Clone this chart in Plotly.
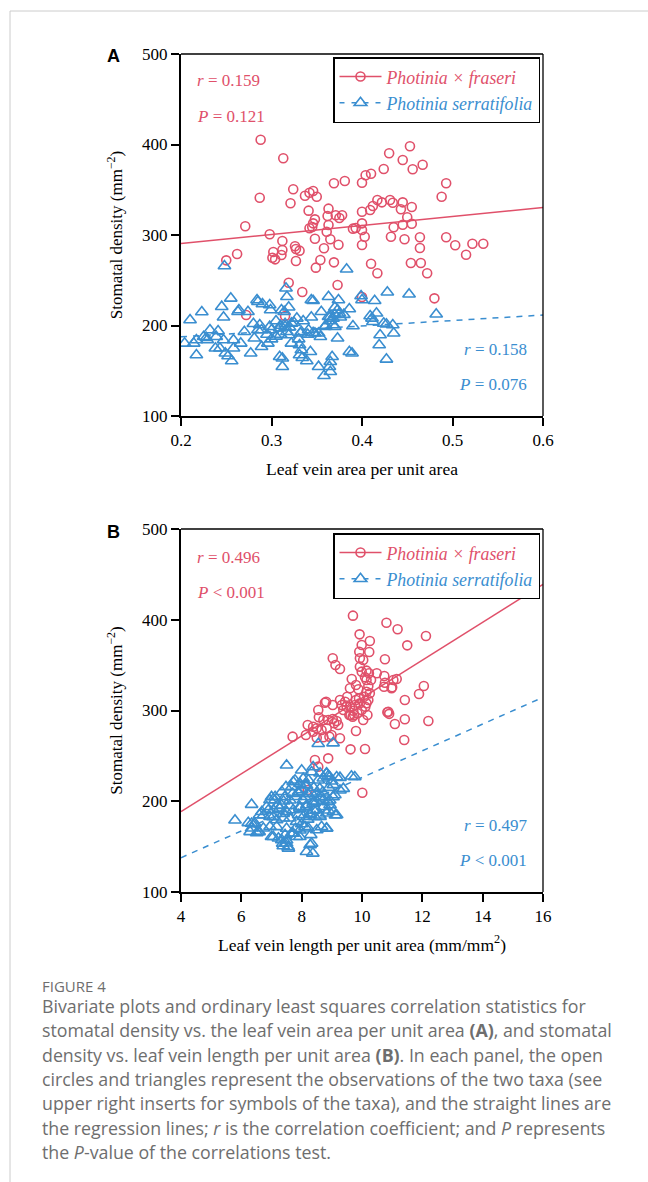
import plotly.graph_objects as go

W, H = 648, 1182
RED = "#E0506A"
BLUE = "#3A8ED0"

# ---------------- Data: panel A (leaf vein area per unit area) ----------------
A_red_x = [0.288, 0.313, 0.287, 0.324, 0.321, 0.337, 0.342, 0.346, 0.350, 0.369, 0.381, 0.400,
           0.271, 0.298, 0.312, 0.326, 0.327, 0.331, 0.341, 0.348, 0.346, 0.342, 0.345, 0.348,
           0.363, 0.362, 0.363, 0.361, 0.365, 0.371, 0.375, 0.378, 0.374, 0.358, 0.390, 0.393,
           0.400, 0.400, 0.400, 0.400, 0.302, 0.301, 0.304, 0.311, 0.312, 0.250, 0.262, 0.327,
           0.354, 0.349, 0.369, 0.319, 0.334, 0.373, 0.453, 0.430, 0.445, 0.467, 0.456, 0.424,
           0.410, 0.404, 0.493, 0.488, 0.417, 0.412, 0.409, 0.422, 0.431, 0.434, 0.445, 0.443,
           0.455, 0.450, 0.445, 0.455, 0.435, 0.403, 0.432, 0.447, 0.464, 0.464, 0.493, 0.503,
           0.522, 0.534, 0.515, 0.410, 0.417, 0.454, 0.465, 0.472, 0.480, 0.400, 0.272, 0.315]
A_red_y = [405.3, 384.8, 341.2, 350.5, 335.0, 343.4, 346.7, 348.6, 342.3, 357.1, 359.7, 357.8,
           309.6, 300.8, 293.4, 287.5, 284.5, 282.7, 326.9, 317.3, 312.9, 307.4, 308.8, 295.9,
           329.1, 321.0, 311.0, 303.6, 295.3, 321.8, 318.8, 321.8, 289.3, 285.3, 307.0, 307.7,
           325.7, 312.9, 305.5, 289.0, 281.2, 274.9, 273.1, 277.9, 283.4, 272.0, 279.0, 271.3,
           272.4, 263.9, 269.8, 247.3, 237.0, 244.8, 398.0, 390.3, 382.9, 377.7, 372.6, 372.9,
           367.7, 366.0, 357.1, 342.3, 338.7, 332.0, 327.6, 336.1, 338.7, 335.7, 336.1, 328.4,
           330.9, 319.6, 311.4, 312.5, 308.5, 298.1, 298.1, 295.3, 297.5, 285.6, 297.5, 288.6,
           290.4, 290.4, 278.2, 268.3, 257.7, 269.1, 269.1, 257.7, 230.0, 231.5, 211.6, 210.5]

A_blue_x = [0.248, 0.383, 0.316, 0.255, 0.284, 0.317, 0.344, 0.346, 0.363, 0.374, 0.400, 0.399,
            0.414, 0.428, 0.452, 0.482, 0.245, 0.223, 0.210, 0.247, 0.264, 0.263, 0.274, 0.285,
            0.290, 0.298, 0.299, 0.311, 0.314, 0.319, 0.328, 0.344, 0.355, 0.365, 0.368, 0.373,
            0.375, 0.376, 0.386, 0.409, 0.411, 0.412, 0.416, 0.424, 0.427, 0.434, 0.241, 0.232,
            0.225, 0.214, 0.228, 0.229, 0.217, 0.239, 0.247, 0.258, 0.266, 0.270, 0.281, 0.287,
            0.289, 0.298, 0.300, 0.309, 0.315, 0.317, 0.319, 0.322, 0.332, 0.333, 0.341, 0.346,
            0.348, 0.352, 0.354, 0.359, 0.363, 0.368, 0.370, 0.390, 0.420, 0.435, 0.204, 0.238,
            0.243, 0.249, 0.252, 0.256, 0.258, 0.277, 0.289, 0.296, 0.309, 0.312, 0.322, 0.331,
            0.333, 0.331, 0.334, 0.339, 0.343, 0.352, 0.358, 0.365, 0.364, 0.367, 0.365, 0.373,
            0.386, 0.389, 0.419, 0.427, 0.217, 0.312, 0.305, 0.310, 0.315, 0.320, 0.325, 0.310,
            0.305, 0.295, 0.285, 0.280, 0.300, 0.340, 0.360, 0.365, 0.370, 0.380, 0.370, 0.335,
            0.330]
A_blue_y = [265.7, 262.1, 241.1, 230.0, 228.2, 231.8, 228.2, 227.4, 231.8, 228.2, 228.2, 232.6,
            227.4, 236.7, 234.5, 212.4, 220.8, 214.9, 206.1, 209.1, 217.1, 215.2, 215.2, 226.3,
            223.7, 222.6, 217.1, 217.1, 215.2, 220.1, 207.9, 209.1, 215.2, 209.7, 207.9, 217.1,
            213.5, 209.1, 218.2, 210.5, 207.9, 204.2, 213.5, 202.4, 201.3, 200.5, 193.9, 195.0,
            187.6, 180.3, 186.5, 184.0, 184.0, 187.6, 184.0, 184.0, 180.3, 193.1, 185.9, 200.5,
            195.0, 198.7, 195.0, 196.9, 198.7, 193.1, 189.5, 202.4, 191.4, 193.1, 195.0, 192.0,
            191.4, 191.4, 187.6, 198.7, 209.7, 200.5, 198.7, 199.4, 189.5, 191.4, 180.3, 174.8,
            174.8, 169.3, 166.3, 160.8, 174.8, 169.3, 176.6, 180.3, 165.5, 163.8, 180.3, 178.5,
            172.9, 167.4, 164.4, 160.8, 171.0, 154.5, 144.5, 148.9, 154.5, 165.5, 160.0, 185.9,
            171.0, 169.3, 178.5, 162.6, 167.4, 154.5, 205.0, 200.0, 202.0, 198.0, 203.0, 190.0,
            188.0, 190.0, 195.0, 202.0, 185.0, 190.0, 200.0, 205.0, 212.0, 212.0, 220.0, 205.0,
            185.0]

# regression lines, panel A (values at x = 0.2 and 0.6)
A_fit_x = [0.2, 0.6]
A_fit_red = [290.5, 330.5]
A_fit_blue = [187.5, 211.5]

# ---------------- Data: panel B (leaf vein length per unit area) ----------------
B_red_x = [9.70, 10.81, 11.18, 12.12, 11.50, 9.92, 9.99, 10.26, 10.24, 9.91, 9.93, 10.04,
           9.03, 9.12, 9.27, 10.76, 9.93, 9.99, 10.15, 10.23, 10.10, 10.15, 10.30, 10.49,
           10.74, 10.76, 11.15, 9.66, 9.80, 9.88, 9.60, 10.21, 10.15, 10.26, 10.07, 10.21,
           10.15, 10.11, 9.90, 9.80, 9.77, 9.71, 9.62, 9.74, 9.85, 9.99, 9.93, 10.18,
           10.04, 9.51, 9.44, 9.33, 9.27, 9.49, 9.60, 9.38, 9.58, 9.69, 10.73, 10.98,
           11.42, 11.89, 12.05, 10.87, 11.09, 11.42, 12.20, 11.40, 8.81, 9.03, 8.55, 8.57,
           8.72, 8.88, 9.03, 9.16, 9.21, 9.08, 8.20, 8.38, 8.50, 8.38, 8.66, 8.83,
           8.99, 8.92, 9.27, 8.72, 8.50, 8.14, 7.70, 9.80, 9.62, 10.10, 8.88, 8.44,
           8.55, 10.01, 8.20, 11.04, 11.00, 10.84, 8.77, 10.90]
B_red_y = [404.5, 396.7, 389.5, 382.1, 371.8, 383.9, 372.2, 376.6, 364.5, 364.8, 357.5, 355.6,
           357.5, 350.1, 345.7, 356.4, 348.3, 342.8, 343.9, 341.0, 336.6, 333.6, 333.6, 341.0,
           338.0, 330.6, 334.7, 334.7, 328.1, 323.4, 324.5, 327.0, 320.7, 318.9, 315.2, 311.6,
           307.9, 304.2, 313.4, 311.6, 306.1, 299.8, 295.0, 295.0, 296.9, 300.6, 307.9, 295.0,
           289.5, 315.2, 309.7, 306.1, 311.6, 304.2, 304.2, 300.6, 295.0, 293.2, 326.2, 324.5,
           311.6, 318.2, 327.0, 298.7, 285.1, 290.3, 288.4, 267.5, 309.7, 306.1, 300.6, 292.6,
           289.5, 289.5, 290.6, 288.4, 284.0, 285.9, 284.0, 282.1, 280.4, 276.6, 278.5, 280.4,
           273.0, 271.2, 269.4, 270.5, 270.1, 273.0, 271.2, 277.4, 257.2, 257.5, 247.3, 245.5,
           238.1, 209.4, 212.4, 333.6, 325.6, 298.0, 308.5, 296.3]

B_blue_x = [5.79, 6.34, 6.34, 6.42, 6.29, 6.51, 6.59, 6.23, 6.73, 6.89, 7.00, 7.11,
            7.05, 7.00, 7.17, 7.33, 7.39, 7.44, 7.50, 7.48, 7.67, 7.72, 7.78, 7.89,
            7.70, 7.61, 7.50, 7.37, 7.55, 7.72, 7.83, 7.94, 8.11, 8.00, 8.33, 8.38,
            8.55, 8.60, 8.49, 8.66, 8.71, 8.16, 8.33, 8.05, 8.16, 8.27, 8.38, 7.94,
            8.44, 8.60, 8.66, 8.82, 8.88, 8.93, 9.04, 8.88, 8.55, 9.04, 8.93, 9.16,
            9.27, 9.27, 9.38, 9.12, 9.65, 9.76, 8.82, 8.16, 8.05, 7.94, 9.05, 9.10,
            8.83, 8.88, 8.72, 8.61, 8.22, 8.11, 8.00, 7.89, 7.34, 7.12, 6.95, 6.84,
            6.68, 6.60, 8.61, 8.39, 8.17, 7.94, 7.72, 7.50, 7.28, 7.06, 6.95, 7.17,
            7.39, 7.61, 7.83, 8.05, 8.28, 8.50, 8.72, 8.94, 8.61, 8.83, 9.05, 9.16,
            6.45, 6.34, 6.56, 6.73, 6.95, 7.06, 7.23, 7.45, 7.67, 7.94, 8.22, 8.50,
            8.83, 7.34, 7.50, 7.56, 7.39, 8.28, 8.37, 7.80, 8.10, 8.30, 8.40, 8.20,
            7.60, 7.90, 8.20, 8.40, 8.70, 8.90, 9.00, 8.50, 8.00, 7.50, 7.80, 8.30,
            7.20, 7.40]
B_blue_y = [179.1, 196.3, 175.5, 174.7, 166.3, 165.2, 166.3, 176.2, 184.6, 190.1, 204.8, 201.1,
            182.8, 160.8, 171.8, 195.6, 186.4, 204.8, 239.6, 215.8, 215.8, 221.2, 223.1, 210.3,
            208.4, 201.1, 157.1, 153.5, 149.8, 164.5, 160.8, 168.1, 171.8, 234.1, 232.2, 237.7,
            223.1, 213.9, 208.4, 204.8, 201.1, 144.3, 153.5, 201.1, 193.8, 186.4, 197.4, 193.8,
            182.8, 184.6, 171.8, 170.0, 190.1, 201.1, 204.8, 199.3, 263.4, 264.1, 226.7, 226.7,
            226.0, 212.1, 213.9, 184.6, 227.5, 226.7, 230.4, 217.6, 224.9, 219.4, 218.0, 206.9,
            230.8, 227.8, 225.3, 230.8, 223.4, 218.0, 212.4, 208.8, 210.5, 205.0, 201.4, 194.0,
            188.5, 184.8, 203.3, 199.5, 195.9, 192.2, 190.4, 188.5, 192.2, 190.4, 183.0, 179.3,
            181.2, 181.2, 177.5, 183.0, 184.8, 190.4, 194.0, 195.9, 183.0, 186.7, 188.5, 184.8,
            175.7, 170.2, 166.5, 170.2, 172.0, 160.9, 159.2, 162.9, 164.7, 160.9, 170.2, 168.3,
            170.2, 157.3, 153.7, 148.1, 150.7, 151.8, 142.6, 205.0, 205.0, 210.0, 215.0, 208.0,
            195.0, 185.0, 180.0, 190.0, 210.0, 215.0, 222.0, 200.0, 175.0, 170.0, 170.0, 163.0,
            195.0, 200.0]

B_fit_x = [4, 16]
B_fit_red = [188.5, 439.0]
B_fit_blue = [137.8, 314.5]

NAME_RED = '<span style="color:%s"><i>Photinia × fraseri</i></span>' % RED
NAME_BLUE = '<span style="color:%s"><i>Photinia serratifolia</i></span>' % BLUE

def px_x(p):
    return p / W

def px_y(p):
    return 1 - p / H

fig = go.Figure()

panels = [
    ("x", "y", "legend", A_red_x, A_red_y, A_blue_x, A_blue_y, A_fit_x, A_fit_red, A_fit_blue),
    ("x2", "y2", "legend2", B_red_x, B_red_y, B_blue_x, B_blue_y, B_fit_x, B_fit_red, B_fit_blue),
]

red_marker = dict(symbol="circle-open", size=9, color=RED, line=dict(width=1.6, color=RED))
blue_marker = dict(symbol="triangle-up-open", size=11, color=BLUE, line=dict(width=1.6, color=BLUE))

for xa, ya, lg, rx, ry, bx, by, fx, fr, fb in panels:
    fig.add_trace(go.Scatter(x=rx, y=ry, mode="markers", marker=red_marker,
                             xaxis=xa, yaxis=ya, showlegend=False, hoverinfo="skip"))
    fig.add_trace(go.Scatter(x=bx, y=by, mode="markers", marker=blue_marker,
                             xaxis=xa, yaxis=ya, showlegend=False, hoverinfo="skip"))
    fig.add_trace(go.Scatter(x=fx, y=fr, mode="lines", line=dict(color=RED, width=1.5),
                             xaxis=xa, yaxis=ya, showlegend=False, hoverinfo="skip"))
    fig.add_trace(go.Scatter(x=fx, y=fb, mode="lines", line=dict(color=BLUE, width=1.5, dash="6px,6px"),
                             xaxis=xa, yaxis=ya, showlegend=False, hoverinfo="skip"))
    # legend entries (line + marker)
    fig.add_trace(go.Scatter(x=[None], y=[None], mode="lines+markers", name=NAME_RED,
                             marker=red_marker, line=dict(color=RED, width=1.5),
                             xaxis=xa, yaxis=ya, legend=lg))
    fig.add_trace(go.Scatter(x=[None], y=[None], mode="lines+markers", name=NAME_BLUE,
                             marker=blue_marker, line=dict(color=BLUE, width=1.5, dash="5px,7px"),
                             xaxis=xa, yaxis=ya, legend=lg))

axis_font = dict(family="Liberation Serif", size=17, color="black")

def xaxis_cfg(domain, rng, dtick, fmt, title, anchor):
    return dict(domain=domain, range=rng, dtick=dtick, tick0=rng[0], tickformat=fmt,
                anchor=anchor, showline=True, linewidth=2, linecolor="black",
                ticks="outside", ticklen=8, tickwidth=1.5, tickcolor="black",
                showgrid=False, zeroline=False, tickfont=axis_font, automargin=False,
                title=dict(text=title, font=dict(family="Liberation Serif", size=17.5, color="black"),
                           standoff=13))

def yaxis_cfg(domain, anchor):
    return dict(domain=domain, range=[100, 500], dtick=100, anchor=anchor,
                showline=True, linewidth=2, linecolor="black",
                ticks="outside", ticklen=8, tickwidth=1.5, tickcolor="black",
                showgrid=False, zeroline=False, tickfont=axis_font, automargin=False,
                title=dict(text="Stomatal density (mm<sup>−2</sup>)",
                           font=dict(family="Liberation Serif", size=17, color="black"),
                           standoff=15))

legend_common = dict(xanchor="left", yanchor="top", bordercolor="black", borderwidth=1.5,
                     bgcolor="white", font=dict(family="Liberation Serif", size=17.8),
                     itemwidth=42, tracegroupgap=0)

xd = [181 / W, 543 / W]
fig.update_layout(
    width=W, height=H, margin=dict(l=0, r=0, t=0, b=0, autoexpand=False),
    paper_bgcolor="white", plot_bgcolor="white",
    font=dict(family="Liberation Serif", size=17, color="black"),
    xaxis=xaxis_cfg(xd, [0.2, 0.6], 0.1, ".1f", "Leaf vein area per unit area", "y"),
    yaxis=yaxis_cfg([px_y(416), px_y(54)], "x"),
    xaxis2=xaxis_cfg(xd, [4, 16], 2, "d", "Leaf vein length per unit area (mm/mm<sup>2</sup>)", "y2"),
    yaxis2=yaxis_cfg([px_y(892), px_y(529)], "x2"),
    legend=dict(x=px_x(333), y=px_y(57), **legend_common),
    legend2=dict(x=px_x(333), y=px_y(533), **legend_common),
    showlegend=True,
)

# top and right frame lines
for xa, ya in (("x", "y"), ("x2", "y2")):
    fig.add_shape(type="line", xref=f"{xa} domain", yref=f"{ya} domain", x0=0, x1=1, y0=1, y1=1,
                  line=dict(color="black", width=1.3))
    fig.add_shape(type="line", xref=f"{xa} domain", yref=f"{ya} domain", x0=1, x1=1, y0=0, y1=1,
                  line=dict(color="black", width=1.3))

# card border
fig.add_shape(type="line", xref="paper", yref="paper", x0=px_x(10), x1=1, y0=px_y(11), y1=px_y(11),
              line=dict(color="#cccccc", width=1))
fig.add_shape(type="line", xref="paper", yref="paper", x0=px_x(10), x1=px_x(10), y0=px_y(11), y1=0,
              line=dict(color="#cccccc", width=1))

def ann(text, x, y, color="black", size=17, xanchor="left", family="Liberation Serif"):
    fig.add_annotation(text=text, x=px_x(x), y=px_y(y), xref="paper", yref="paper",
                       xanchor=xanchor, yanchor="middle", showarrow=False,
                       font=dict(family=family, size=size, color=color))

# panel letters
ann("<b>A</b>", 105, 56, size=18, family="Liberation Sans")
ann("<b>B</b>", 105, 532, size=18, family="Liberation Sans")

# statistics
ann("<i>r</i> = 0.159", 195, 80.5, RED)
ann("<i>P</i> = 0.121", 195, 116, RED)
ann("<i>r</i> = 0.158", 529, 349, BLUE, xanchor="right")
ann("<i>P</i> = 0.076", 529, 384.5, BLUE, xanchor="right")
ann("<i>r</i> = 0.496", 195, 557, RED)
ann("<i>P</i> &lt; 0.001", 195, 592.5, RED)
ann("<i>r</i> = 0.497", 529, 825, BLUE, xanchor="right")
ann("<i>P</i> &lt; 0.001", 529, 860.5, BLUE, xanchor="right")

# caption
CAP = "#6e6e6e"
ann("FIGURE 4", 40, 986, CAP, size=15, family="Open Sans")
caption_lines = [
    "Bivariate plots and ordinary least squares correlation statistics for",
    "stomatal density vs. the leaf vein area per unit area <b>(A)</b>, and stomatal",
    "density vs. leaf vein length per unit area <b>(B)</b>. In each panel, the open",
    "circles and triangles represent the observations of the two taxa (see",
    "upper right inserts for symbols of the taxa), and the straight lines are",
    "the regression lines; <i>r</i> is the correlation coefficient; and <i>P</i> represents",
    "the <i>P</i>-value of the correlations test.",
]
for i, line in enumerate(caption_lines):
    ann(line, 40, 1006 + i * 24.3, CAP, size=17.8, family="Open Sans")

fig.write_html("out.html", post_script="document.body.style.margin='0px';",
               config={"displayModeBar": False})
